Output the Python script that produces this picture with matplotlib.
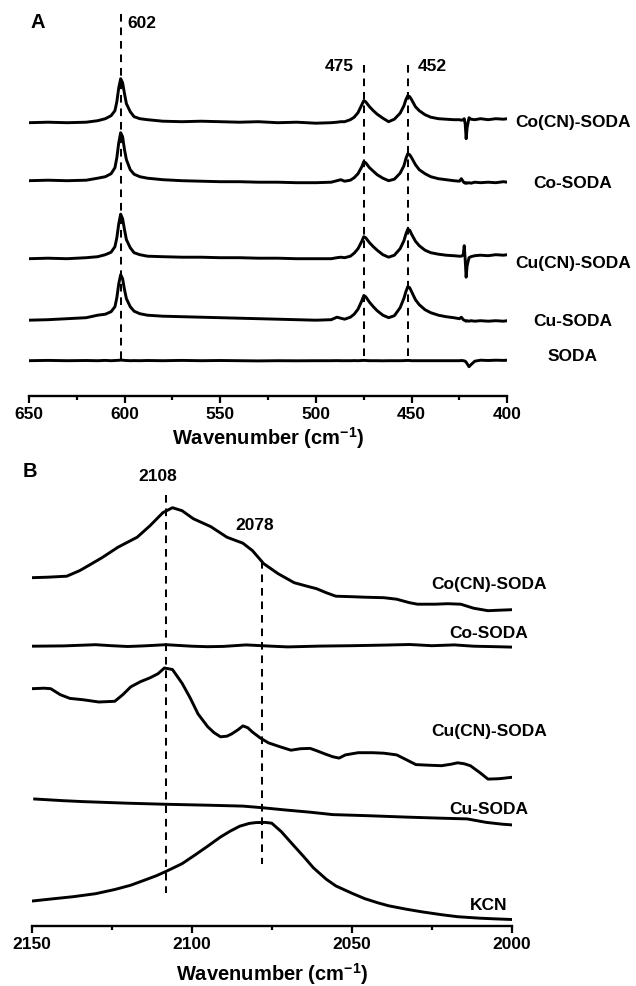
import matplotlib
matplotlib.use('Agg')
import matplotlib.pyplot as plt

plt.rcParams['font.family'] = ['Liberation Sans', 'DejaVu Sans']
plt.rcParams['font.weight'] = 'bold'
plt.rcParams['mathtext.fontset'] = 'custom'
plt.rcParams['mathtext.rm'] = 'Liberation Sans:bold'
plt.rcParams['mathtext.default'] = 'rm'

# ---- panel A: low-frequency region, stacked spectra (a.u., offset) ----
wn_a = [650, 640, 630, 620, 614, 610, 607, 605, 604, 603,
        602, 601, 600, 599, 597, 595, 592, 588, 580, 570,
        560, 550, 540, 530, 520, 510, 500, 492, 489, 487,
        485, 482, 480, 478, 476, 475, 474, 472, 470, 468,
        465, 462, 459, 456, 454, 453, 452, 451, 450, 448,
        446, 443, 440, 436, 432, 428, 425, 424, 423, 422.5,
        422, 421.5, 421, 420, 419, 417, 414, 410, 406, 402, 400]

cocn_soda_a = [273, 273.5, 273, 273.5, 275, 277, 280, 285, 294, 308,
               317, 313, 302, 292, 284, 279, 277, 276, 274.5, 274,
               274.5, 274, 273.5, 274, 273, 273.5, 272.5, 273, 273.5, 274,
               274, 276, 278.5, 283, 291, 295, 294, 289, 285, 281.5,
               277.5, 274, 276.5, 282.5, 290, 296, 300, 299, 296, 289,
               285, 281, 278.5, 277, 276.5, 276, 276, 275.5, 276, 277,
               272, 257, 268, 278, 276.5, 276, 277, 276, 277, 276.5, 277]
co_soda_a = [215, 215.5, 215, 215.5, 217.5, 219, 222, 228, 238, 253,
             263, 259, 246, 236, 226, 221.5, 219, 217.5, 216, 215,
             214.5, 214, 214, 213.5, 213.5, 213, 213, 213.5, 215, 216,
             214.5, 215.5, 218, 222, 229, 234, 233, 228, 224.5, 221,
             217.5, 215, 216.5, 222.5, 230, 237, 242, 241, 238, 231,
             226, 222, 219, 217, 216, 215, 214.5, 217, 214, 213,
             212.5, 213, 212.5, 213, 212.5, 213.5, 213, 213.5, 213, 214, 213.5]
cucn_soda_a = [137, 137.5, 137, 138, 139, 141, 143.5, 149, 158, 172,
               181.5, 177, 166, 156, 148, 143, 141, 139.5, 139, 138.5,
               138.5, 138, 138, 137.5, 137.5, 137, 137, 137, 138, 138.5,
               138, 139.5, 142.5, 147, 154.5, 159, 158, 153, 149, 145.5,
               141, 138.5, 140.5, 147, 155, 161.5, 166.5, 165.5, 161.5, 154.5,
               150, 145.5, 143, 141.5, 140.5, 140, 139.5, 139.5, 141, 150,
               136, 118.5, 130, 138, 139, 140, 140.5, 140, 141, 140.5, 141]
cu_soda_a = [75.5, 76, 77, 78, 80.5, 81.5, 84, 89, 98, 112,
             121, 117, 106, 97, 89, 84.5, 82, 80.5, 79.5, 79,
             78.5, 78, 77.5, 77, 76.5, 76, 75.5, 76, 78.5, 77.5,
             76.5, 78.5, 81.5, 86.5, 95, 100, 99, 93.5, 89, 85,
             80.5, 78, 80, 88, 97.5, 104, 109, 108, 104, 96,
             91, 86, 83, 80.5, 79, 78, 77, 78.5, 76, 75.5,
             75, 74.5, 75, 74.5, 75, 74.5, 75, 74.5, 75, 74.5, 75]
soda_a = [35, 35.3, 35, 35.2, 35, 35.3, 35, 35.2, 35.3, 35.4,
          35.6, 35.5, 35.3, 35.2, 35, 35.1, 35, 35.2, 35, 35.3,
          35, 35.2, 35, 34.8, 35, 34.9, 35, 35, 35.1, 35,
          35, 35, 35.1, 35, 35.2, 35.3, 35.2, 35, 35, 35,
          34.9, 35, 35, 35, 35.1, 35.2, 35.3, 35.2, 35, 35,
          35, 35, 35, 35, 35, 35, 35, 35.2, 35, 34.8,
          34.5, 33.5, 32, 29, 31, 34.5, 35.5, 35.2, 35.5, 35.3, 35.5]

names_a = ['Co(CN)-SODA', 'Co-SODA', 'Cu(CN)-SODA', 'Cu-SODA', 'SODA']
label_y_a = [274, 213.4, 133.4, 75, 40]
peaks_a = [602, 475, 452]

# ---- panel B: cyanide stretching region ----
wn_cocn_b = [2150, 2145, 2139, 2135, 2132, 2128, 2123, 2117, 2113, 2109,
             2106, 2103, 2099.5, 2094, 2089, 2084, 2081, 2077.5, 2073, 2068,
             2064, 2061, 2058, 2055, 2050, 2046, 2040, 2036, 2032, 2029.5,
             2024, 2020, 2016, 2012, 2007.5, 2004, 2000]
cocn_soda_b = [348, 348.5, 349.5, 355, 360.5, 368, 378.5, 388.5, 400, 413,
               418, 415, 407, 399, 388.5, 382.5, 375, 362, 352, 343,
               339.5, 337, 333, 329.5, 329, 328.5, 328, 326.5, 323, 321.5,
               321.5, 322, 321.5, 317.5, 315, 315.5, 316]

wn_co_b = [2150, 2140, 2130, 2125, 2120, 2115, 2108, 2100, 2095, 2090, 2083,
           2075, 2070, 2060, 2050, 2040, 2032, 2025, 2018, 2012, 2005, 2000]
co_soda_b = [279.5, 279.8, 281, 280, 279.2, 279.8, 281, 279.5, 279, 279.3, 280.8,
             279.5, 278.8, 279.6, 280, 280.6, 281.2, 280, 280.8, 279.5, 279, 278.6]

wn_cucn_b = [2150, 2146, 2144, 2141, 2138, 2134, 2129, 2124, 2121.5, 2119,
             2116, 2113, 2110.5, 2108.5, 2106, 2103, 2100.5, 2098, 2095, 2093,
             2091, 2089, 2087.5, 2085.5, 2084, 2082.5, 2081, 2078.5, 2076, 2072,
             2069, 2066, 2063, 2061, 2058.5, 2056, 2054, 2052, 2048, 2043.5,
             2040, 2036, 2033, 2030, 2026, 2022, 2019, 2017, 2015, 2013,
             2010, 2007.5, 2004, 2000]
cucn_soda_b = [237, 237.5, 237, 231, 227.3, 226, 223.7, 224.4, 231, 238.9,
               244, 247.9, 252, 257.7, 256.2, 242.5, 228, 211.7, 199, 193,
               188.9, 189.5, 191.8, 196, 199.8, 198, 193.6, 187.5, 182.8, 178.5,
               175.5, 177, 177.3, 175, 171.9, 169, 167.6, 170.8, 173, 173,
               172.5, 170.8, 166, 161.1, 160.5, 160, 161.5, 162.9, 162, 160,
               153, 146.6, 147, 148.4]

wn_cu_b = [2149, 2140, 2134, 2120, 2109, 2095, 2084, 2078, 2071,
           2063, 2056, 2045, 2033, 2022, 2014, 2008, 2003, 2000]
cu_soda_b = [126.7, 125, 124.1, 122.5, 121.5, 120.5, 119.6, 118, 115.8,
             113.5, 111.1, 110, 108.6, 107.5, 106.8, 103.3, 101.5, 100.8]

wn_kcn_b = [2150, 2143, 2137, 2130, 2124, 2119, 2115, 2111, 2108, 2103,
            2099, 2095, 2091, 2088, 2085, 2082, 2080, 2077, 2075, 2072,
            2068.5, 2065, 2062, 2058, 2055, 2050, 2046, 2042, 2038.5, 2033,
            2028, 2022, 2017, 2010, 2005, 2000]
kcn_b = [24.6, 27, 29, 32, 36.2, 40.5, 45.2, 50, 54.3, 62,
         70.6, 79.5, 88.7, 94.5, 99.5, 102.3, 103.1, 103.3, 102.5, 94,
         81.4, 69, 57.9, 46.5, 39.8, 32.5, 27.1, 23, 19.9, 16.5,
         13.8, 11, 9, 7.5, 6.8, 6.2]

names_b = ['Co(CN)-SODA', 'Co-SODA', 'Cu(CN)-SODA', 'Cu-SODA', 'KCN']
label_y_b = [342, 293.2, 195.4, 117.7, 21]
peaks_b = [2108, 2078]

W, H = 636, 987
fig = plt.figure(figsize=(W / 100, H / 100), dpi=100)


def style_axis(ax, major, minor):
    for s in ['left', 'top', 'right']:
        ax.spines[s].set_visible(False)
    ax.spines['bottom'].set_linewidth(1.7)
    ax.set_yticks([])
    ax.set_xticks(major)
    ax.set_xticks(minor, minor=True)
    ax.tick_params(axis='x', which='major', length=5.2, width=1.6, pad=2, labelsize=12.5)
    ax.tick_params(axis='x', which='minor', length=3.2, width=1.6)
    ax.patch.set_visible(False)


dash = (0, (3.8, 2.9))
dlw = 1.45
lw = 2.1

# panel A
axA = fig.add_axes([28.8 / W, (H - 396.7) / H, 478.5 / W, 390 / H])
axA.set_xlim(650, 400)
axA.set_ylim(0, 390)
style_axis(axA, [650, 600, 550, 500, 450, 400], [625, 575, 525, 475, 425])
for ys in [cocn_soda_a, co_soda_a, cucn_soda_a, cu_soda_a, soda_a]:
    axA.plot(wn_a, ys, color='black', lw=lw, solid_joinstyle='round')
for name, y in zip(names_a, label_y_a):
    axA.text(365.7, y, name, ha='center', va='center', fontsize=12.5,
             fontweight='bold', clip_on=False)
axA.plot([peaks_a[0], peaks_a[0]], [381.7, 35], color='black', lw=dlw, linestyle=dash)
axA.plot([peaks_a[1], peaks_a[1]], [331, 35], color='black', lw=dlw, linestyle=dash)
axA.plot([peaks_a[2], peaks_a[2]], [331, 35], color='black', lw=dlw, linestyle=dash)
axA.text(peaks_a[0] - 3.7, 373.7, str(peaks_a[0]), ha='left', va='center', fontsize=12.5)
axA.text(peaks_a[1] + 5.2, 330, str(peaks_a[1]), ha='right', va='center', fontsize=12.5)
axA.text(peaks_a[2] - 5.0, 330, str(peaks_a[2]), ha='left', va='center', fontsize=12.5)
axA.set_xlabel('Wavenumber (cm$^{-1}$)', fontsize=14.5, fontweight='bold')
axA.xaxis.set_label_coords(0.5, -0.072)

# panel B
axB = fig.add_axes([31.5 / W, (H - 926.7) / H, 480.5 / W, 446.7 / H])
axB.set_xlim(2150, 2000)
axB.set_ylim(0, 446.7)
style_axis(axB, [2150, 2100, 2050, 2000], [2125, 2075, 2025])
axB.plot(wn_cocn_b, cocn_soda_b, color='black', lw=lw)
axB.plot(wn_co_b, co_soda_b, color='black', lw=lw)
axB.plot(wn_cucn_b, cucn_soda_b, color='black', lw=lw)
axB.plot(wn_cu_b, cu_soda_b, color='black', lw=lw)
axB.plot(wn_kcn_b, kcn_b, color='black', lw=lw)
for name, y in zip(names_b, label_y_b):
    axB.text(2007.2, y, name, ha='center', va='center', fontsize=12.5, fontweight='bold')
axB.plot([peaks_b[0], peaks_b[0]], [431, 32.6], color='black', lw=dlw, linestyle=dash)
axB.plot([peaks_b[1], peaks_b[1]], [365, 61.5], color='black', lw=dlw, linestyle=dash)
axB.text(peaks_b[0] + 2.6, 450, str(peaks_b[0]), ha='center', va='center', fontsize=12.5)
axB.text(peaks_b[1] + 2.2, 400.7, str(peaks_b[1]), ha='center', va='center', fontsize=12.5)
axB.set_xlabel('Wavenumber (cm$^{-1}$)', fontsize=14.5, fontweight='bold')
axB.xaxis.set_label_coords(0.5, -0.077)

# panel letters
fig.text(37.7 / W, 1 - 23 / H, 'A', ha='center', va='center', fontsize=14.5, fontweight='bold')
fig.text(30 / W, 1 - 471.7 / H, 'B', ha='center', va='center', fontsize=14.5, fontweight='bold')

fig.savefig('out.png', dpi=100)
